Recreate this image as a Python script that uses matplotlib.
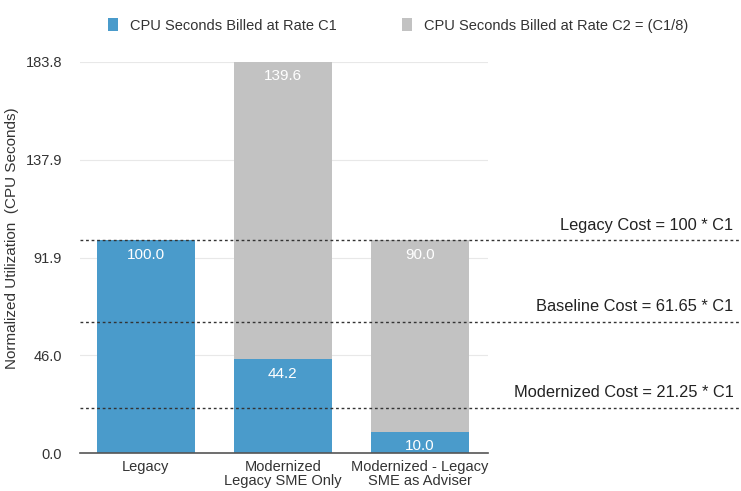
import matplotlib.pyplot as plt
import numpy as np

plt.rcParams['font.family'] = ['Liberation Sans', 'DejaVu Sans']

categories = ["Legacy", "Modernized\nLegacy SME Only", "Modernized - Legacy\nSME as Adviser"]
rate_c1 = [100.0, 44.2, 10.0]
rate_c2 = [0.0, 139.6, 90.0]
y_ticks = [0.0, 46.0, 91.9, 137.9, 183.8]
cost_levels = [100.0, 61.65, 21.25]
cost_labels = ["Legacy Cost = 100 * C1", "Baseline Cost = 61.65 * C1", "Modernized Cost = 21.25 * C1"]

blue = "#4a9bcb"
gray = "#c2c2c2"

fig = plt.figure(figsize=(7.41, 4.91), dpi=100)
ax = fig.add_axes([0.108, 0.077, 0.551, 0.797])

x = np.arange(len(categories))
w = 0.715
ax.bar(x, rate_c1, w, color=blue, label="CPU Seconds Billed at Rate C1", zorder=2)
ax.bar(x, rate_c2, w, bottom=rate_c1, color=gray, label="CPU Seconds Billed at Rate C2 = (C1/8)", zorder=2)

for i in range(len(x)):
    ax.text(x[i], rate_c1[i] - 3.5, f"{rate_c1[i]:.1f}", ha="center", va="top",
            color="white", fontsize=11, zorder=3)
    if rate_c2[i] > 0:
        ax.text(x[i], rate_c1[i] + rate_c2[i] - 3.5, f"{rate_c2[i]:.1f}", ha="center",
                va="top", color="white", fontsize=11, zorder=3)

ax.set_xlim(-0.48, 2.5)
ax.set_ylim(0, 183.8)
ax.set_yticks(y_ticks)
ax.set_yticklabels([f"{v:.1f}" for v in y_ticks], fontsize=10.5, color="#333333")
ax.set_xticks(x)
ax.set_xticklabels(categories, fontsize=10.5, color="#333333", linespacing=1.0)
ax.tick_params(axis="y", length=0, pad=13)
ax.tick_params(axis="x", length=0, pad=5)
ax.grid(axis="y", color="#e8e8e8", linewidth=0.8, zorder=0)
for s in ["top", "right", "left"]:
    ax.spines[s].set_visible(False)
ax.spines["bottom"].set_color("#555555")
ax.spines["bottom"].set_linewidth(1.2)
ax.set_ylabel("Normalized Utilization  (CPU Seconds)", fontsize=11, color="#333333")
ax.yaxis.set_label_coords(-0.15, 0.55)

# dotted cost lines running past the axes to the figure edge
trans = ax.get_yaxis_transform()
for lvl, lab in zip(cost_levels, cost_labels):
    ax.plot([0, 1.63], [lvl, lvl], transform=trans, clip_on=False, color="#333333",
            linestyle=(0, (2, 2)), linewidth=1.0, zorder=4)
    ax.text(1.6, lvl + 3.5, lab, transform=trans, ha="right", va="bottom",
            fontsize=11.8, color="#222222")

leg = fig.legend(loc="upper center", bbox_to_anchor=(0.537, 0.99), ncol=2, frameon=False,
                 fontsize=10.5, handlelength=0.7, handleheight=1.0, columnspacing=4.5,
                 handletextpad=0.8)
for t in leg.get_texts():
    t.set_color("#333333")

fig.savefig("out.png", dpi=100)
